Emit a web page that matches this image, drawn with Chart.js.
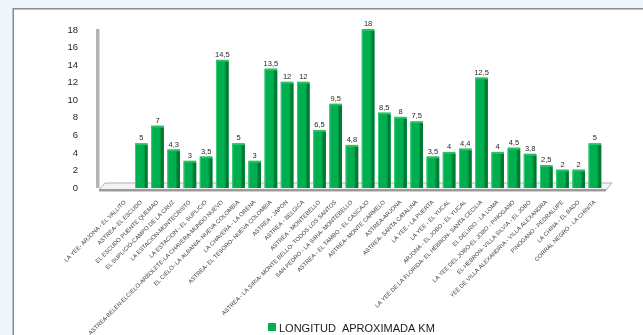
<!DOCTYPE html>
<html>
<head>
<meta charset="utf-8">
<script src="https://cdn.jsdelivr.net/npm/chart.js@4/dist/chart.umd.min.js"></script>
<style>
html,body{margin:0;padding:0;background:#eef6fc;}
#wrap{position:absolute;left:0;top:0;width:643px;height:335px;}
</style>
</head>
<body>
<div id="wrap"><canvas id="c" width="643" height="335"></canvas></div>
<script>
const categories = [
  "LA YEE- ARJONA - EL VALLITO",
  "ASTREA- EL ESCUDO",
  "EL ESCUDO PUENTE QUEMAO",
  "EL SUPLICIO-CAMPO DE LA CRUZ",
  "LA ESTACION-MONTECRISTO",
  "LA ESTACION - EL SUPLICIO",
  "ASTREA-BELEN-ELCIELO-ARBOLETE-LA CHAVERA-MUNDO NUEVO",
  "EL CIELO- LA ALBANIA- NUEVA COLOMBIA",
  "LA CHAVERA - LA ORENA",
  "ASTREA- EL TESORO- NUEVA COLOMBIA",
  "ASTREA - JAPON",
  "ASTREA - BELGICA",
  "ASTREA - MONTEBELLO",
  "ASTREA - LA SIRIA- MONTE BELLO- TODOS LOS SANTOS",
  "SAN PEDRO - LA SIRIA- MONTEBELLO",
  "ASTREA - EL TAMBO - EL CASCAJO",
  "ASTREA- MONTE CARMELO",
  "ASTREA-ARJONA",
  "ASTREA- SANTA CATALINA",
  "LA YEE - LA PUERTA",
  "LA YEE - EL YUCAL",
  "ARJONA - EL JOBO - EL YUCAL",
  "LA YEE DE LA FLORIDA- EL HEBRON- SANTA CECILIA",
  "EL DELIRIO - LA LOMA",
  "LA YEE DEL JOBO-EL JOBO - PINOGANO",
  "EL HEBRON- VILLA SILVIA - EL JOBO",
  "YEE DE VILLA ALEXANDRIA - VILLA ALEXANDRA",
  "PINOGANO - PEDRALUPE",
  "LA CHINA - EL BADO",
  "CORRAL NEGRO - LA CHINITA"
];
const longitudKm = [null, 5, 7, 4.3, 3, 3.5, 14.5, 5, 3, 13.5, 12, 12, 6.5, 9.5, 4.8, 18, 8.5, 8, 7.5, 3.5, 4, 4.4, 12.5, 4, 4.5, 3.8, 2.5, 2, 2, 5];
const seriesName = "LONGITUD  APROXIMADA KM";
const yTicks = [0, 2, 4, 6, 8, 10, 12, 14, 16, 18];

const framePlugin = {
  id: 'frame',
  beforeDraw(chart) {
    const ctx = chart.ctx;
    ctx.save();
    ctx.fillStyle = '#eef6fc';
    ctx.fillRect(0, 0, chart.width, chart.height);
    ctx.fillStyle = '#ffffff';
    ctx.fillRect(13, 8, chart.width - 13, chart.height - 8);
    ctx.fillStyle = '#8a8a8a';
    ctx.fillRect(13, 8, chart.width - 13, 1.5);
    ctx.fillRect(12.5, 8, 1.5, chart.height - 8);
    ctx.restore();
  },
  beforeDatasetsDraw(chart) {
    const ctx = chart.ctx;
    const a = chart.chartArea;
    const y0 = chart.scales.y.getPixelForValue(0);
    const yTop = chart.scales.y.getPixelForValue(18);
    ctx.save();
    ctx.fillStyle = '#b4b4b4';
    ctx.fillRect(a.left - 21, yTop - 1, 3, y0 - yTop + 1);
    ctx.fillStyle = '#d8d8d8';
    ctx.fillRect(a.left - 18, yTop - 1, 1, y0 - yTop + 1);
    ctx.beginPath();
    ctx.moveTo(a.left - 18, y0 + 2);
    ctx.lineTo(a.right + 3, y0 + 2);
    ctx.lineTo(a.right + 9, y0 - 5);
    ctx.lineTo(a.left - 12, y0 - 5);
    ctx.closePath();
    ctx.fillStyle = '#f4f4f4';
    ctx.fill();
    ctx.strokeStyle = '#b0b0b0';
    ctx.lineWidth = 1;
    ctx.stroke();
    ctx.fillStyle = '#9a9a9a';
    ctx.fillRect(a.left - 18, y0 + 1, a.right - a.left + 21, 2);
    ctx.fillStyle = '#d0d0d0';
    ctx.fillRect(a.left - 18, y0 + 3, a.right - a.left + 21, 1);
    ctx.restore();
  },
  afterDatasetsDraw(chart) {
    const ctx = chart.ctx;
    const meta = chart.getDatasetMeta(0);
    ctx.save();
    meta.data.forEach((bar, i) => {
      const v = longitudKm[i];
      if (v === null || v === undefined) return;
      const left = bar.x - bar.width / 2;
      const right = bar.x + bar.width / 2;
      const top = bar.y;
      const bottom = bar.base;
      ctx.fillStyle = '#007a33';
      ctx.fillRect(right - 3, top + 1, 3, bottom - top - 1);
      ctx.fillStyle = '#00963f';
      ctx.fillRect(right - 4, top + 1, 1, bottom - top - 1);
      ctx.fillStyle = '#3ccb76';
      ctx.fillRect(left, top + 1, 1, bottom - top - 1);
      ctx.fillStyle = '#2bbf66';
      ctx.fillRect(left, top - 1, bar.width, 2);
      ctx.fillStyle = '#262626';
      ctx.font = '7.5px "Liberation Sans", Arial, sans-serif';
      ctx.textAlign = 'center';
      ctx.textBaseline = 'bottom';
      ctx.fillText(String(v).replace('.', ','), bar.x, top - 2);
    });
    ctx.restore();
  },
  afterDraw(chart) {
    // legend (drawn here so the rotated category labels are not clipped)
    const ctx = chart.ctx;
    const ds = chart.data.datasets[0];
    ctx.save();
    ctx.fillStyle = ds.backgroundColor;
    ctx.fillRect(268, 323, 8, 8);
    ctx.fillStyle = '#1a1a1a';
    ctx.font = '11px "Liberation Sans", Arial, sans-serif';
    ctx.textAlign = 'left';
    ctx.textBaseline = 'alphabetic';
    ctx.fillText(ds.label, 279, 331.5);
    ctx.restore();
  }
};

new Chart(document.getElementById('c'), {
  type: 'bar',
  data: {
    labels: categories,
    datasets: [{
      label: seriesName,
      data: longitudKm,
      backgroundColor: '#00b050',
      borderWidth: 0,
      barPercentage: 0.78,
      categoryPercentage: 1.0,
      yAxisID: 'y'
    }]
  },
  options: {
    responsive: false,
    animation: false,
    devicePixelRatio: 1,
    layout: { padding: { top: 30, right: 40, left: 0, bottom: 0 } },
    plugins: {
      legend: { display: false },
      tooltip: { enabled: false }
    },
    scales: {
      x: {
        grid: { display: false },
        border: { display: false },
        ticks: {
          autoSkip: false,
          maxRotation: 45,
          minRotation: 45,
          padding: 3,
          color: '#404040',
          font: { family: '"Liberation Sans", Arial, sans-serif', size: 5.8 }
        },
        afterFit(scale) { scale.height = 147; }
      },
      y: {
        position: 'left',
        weight: 2,
        min: 0,
        max: 18,
        grid: { display: false },
        border: { display: false },
        afterBuildTicks(scale) { scale.ticks = yTicks.map(v => ({ value: v })); },
        ticks: {
          padding: 3,
          color: '#262626',
          font: { family: '"Liberation Sans", Arial, sans-serif', size: 9.5 }
        },
        afterFit(scale) { scale.width = 89; }
      },
      gap: {
        type: 'linear',
        position: 'left',
        weight: 1,
        display: true,
        grid: { display: false },
        border: { display: false },
        ticks: { display: false },
        afterFit(scale) { scale.width = 28; }
      }
    }
  },
  plugins: [framePlugin]
});
</script>
</body>
</html>
